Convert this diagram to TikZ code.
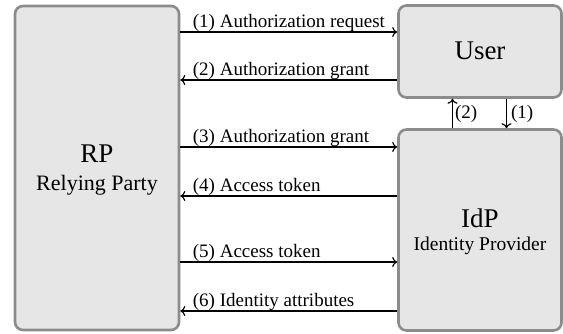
\documentclass[tikz,border=0pt]{standalone}
\usepackage{fontspec}
\setmainfont{Liberation Serif}
\usetikzlibrary{arrows.meta}
\definecolor{boxfill}{HTML}{E6E6E6}
\definecolor{boxline}{HTML}{8C8C8C}
\tikzset{
  party/.style={draw=boxline, fill=boxfill, line width=2.6pt, rounded corners=8pt, inner sep=0pt, align=center},
  msg/.style={line width=1.2pt, -{To[length=5pt,width=10pt]}},
  msglbl/.style={anchor=base west, inner sep=0pt, font=\fontsize{19}{22}\selectfont, xshift=12pt, yshift=5pt},
  biglbl/.style={font=\fontsize{27}{31}\selectfont}
}
\begin{document}
\begin{tikzpicture}[x=1pt,y=-1pt]
        \useasboundingbox (0,0) rectangle (563,333);
        % Los tres participantes
        \node[party, minimum width=164pt, minimum height=324pt] (rp) at (97,168) {};
        \node[party, minimum width=163pt, minimum height=92pt] (user) at (480,51.5) {};
        \node[party, minimum width=163pt, minimum height=201pt] (idp) at (480,230) {};
        \node[biglbl] (rpname) at (97,154) {RP};
        \node[font=\fontsize{22}{26}\selectfont] (rpfull) at (97,185) {Relying Party};
        \node[biglbl] (username) at (480,51) {User};
        \node[biglbl] (idpname) at (480,218) {IdP};
        \node[font=\fontsize{19.5}{23}\selectfont] (idpfull) at (480,246) {Identity Provider};
        % Alturas de los mensajes
        \coordinate (m1) at (0,32);
        \coordinate (m2) at (0,80);
        \coordinate (m3) at (0,147);
        \coordinate (m4) at (0,196);
        \coordinate (m5) at (0,262);
        \coordinate (m6) at (0,311);
        \draw[msg] (rp.east |- m1) -- (user.west |- m1) node[msglbl, pos=0] {(1) Authorization request};
        \draw[msg] (user.west |- m2) -- (rp.east |- m2) node[msglbl, pos=1] {(2) Authorization grant};
        \draw[msg] (rp.east |- m3) -- (idp.west |- m3) node[msglbl, pos=0] {(3) Authorization grant};
        \draw[msg] (idp.west |- m4) -- (rp.east |- m4) node[msglbl, pos=1] {(4) Access token};
        \draw[msg] (rp.east |- m5) -- (idp.west |- m5) node[msglbl, pos=0] {(5) Access token};
        \draw[msg] (idp.west |- m6) -- (rp.east |- m6) node[msglbl, pos=1] {(6) Identity attributes};
        % Entre User e IdP
        \coordinate (up) at (452.5,0);
        \coordinate (down) at (506.5,0);
        \draw[msg] (idp.north -| up) -- (user.south -| up) node[midway, right, inner sep=2pt, font=\fontsize{19}{22}\selectfont] {(2)};
        \draw[msg] (user.south -| down) -- (idp.north -| down) node[midway, right, inner sep=4pt, font=\fontsize{19}{22}\selectfont] {(1)};
\end{tikzpicture}
\end{document}
